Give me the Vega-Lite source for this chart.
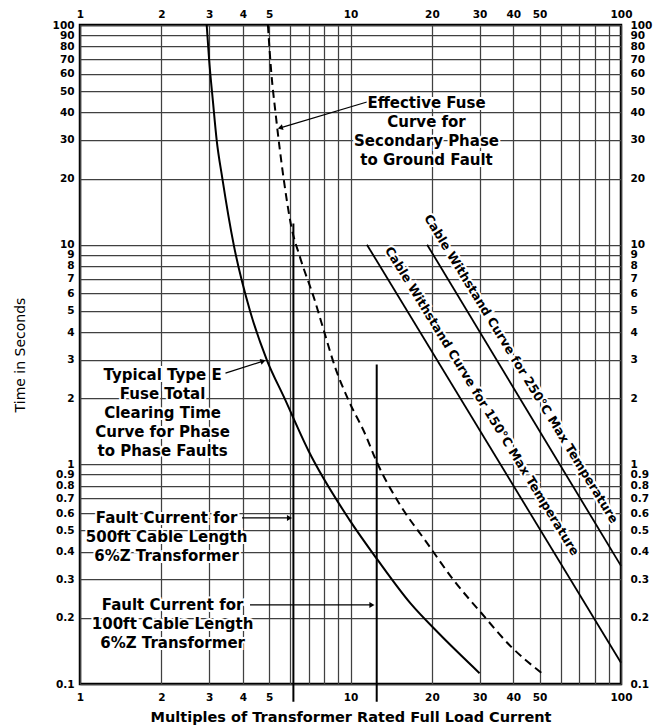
{
  "$schema": "https://vega.github.io/schema/vega-lite/v6.json",
  "width": 541,
  "height": 659,
  "autosize": {"type": "none"},
  "padding": {"left": 80, "top": 25, "right": 39, "bottom": 43},
  "background": "white",
  "config": {
    "view": {"stroke": "black", "strokeWidth": 2.5},
    "axis": {
      "labelFont": "DejaVu Sans",
      "labelFontWeight": "bold",
      "labelFontSize": 10.5,
      "labelColor": "black",
      "ticks": false,
      "domain": false,
      "gridColor": "#404040",
      "gridWidth": 1.25,
      "gridOpacity": 1,
      "labelOverlap": false,
      "labelFlush": false,
      "labelBound": false,
      "titleColor": "black",
      "titleFont": "DejaVu Sans"
    }
  },
  "datasets": {
    "fuse": [
      {"x": 2.94, "y": 100}, {"x": 3.0, "y": 70}, {"x": 3.1, "y": 45}, {"x": 3.2, "y": 30},
      {"x": 3.36, "y": 20}, {"x": 3.7, "y": 10}, {"x": 4.25, "y": 5}, {"x": 4.9, "y": 3},
      {"x": 5.7, "y": 2}, {"x": 7.0, "y": 1.15}, {"x": 9.9, "y": 0.56}, {"x": 12.6, "y": 0.367},
      {"x": 16.7, "y": 0.232}, {"x": 21.1, "y": 0.171}, {"x": 30, "y": 0.112}
    ],
    "effective": [
      {"x": 4.95, "y": 100}, {"x": 5.1, "y": 60}, {"x": 5.28, "y": 40}, {"x": 5.66, "y": 20},
      {"x": 6.05, "y": 12}, {"x": 6.5, "y": 8.8}, {"x": 7.37, "y": 5.6}, {"x": 8.0, "y": 4.0},
      {"x": 8.77, "y": 2.77}, {"x": 9.83, "y": 1.96}, {"x": 11.4, "y": 1.35}, {"x": 12.4, "y": 1.05},
      {"x": 15.1, "y": 0.667}, {"x": 19.2, "y": 0.438}, {"x": 24, "y": 0.298}, {"x": 30.4, "y": 0.211},
      {"x": 39.2, "y": 0.148}, {"x": 51, "y": 0.112}
    ],
    "cable": [
      {"curve": "150", "x": 11.5, "y": 10}, {"curve": "150", "x": 100, "y": 0.125},
      {"curve": "250", "x": 19.2, "y": 10}, {"curve": "250", "x": 100, "y": 0.345}
    ],
    "faults": [
      {"x": 6.15, "y": 0.083, "y2": 12.5},
      {"x": 12.5, "y": 0.083, "y2": 2.85}
    ],
    "arrows": [
      {"id": "effective", "end": "tail", "x": 11.5, "y": 44.6},
      {"id": "effective", "end": "head", "x": 5.5, "y": 34},
      {"id": "typical", "end": "tail", "x": 3.45, "y": 2.6},
      {"id": "typical", "end": "head", "x": 4.75, "y": 2.95},
      {"id": "f500", "end": "tail", "x": 3.97, "y": 0.57},
      {"id": "f500", "end": "head", "x": 5.95, "y": 0.57},
      {"id": "f100", "end": "tail", "x": 4.25, "y": 0.229},
      {"id": "f100", "end": "head", "x": 12.0, "y": 0.229}
    ],
    "notes": [
      {"x": 19.1, "y": 44.2, "text": "Effective Fuse\nCurve for\nSecondary Phase\nto Ground Fault"},
      {"x": 2.02, "y": 2.55, "text": "Typical Type E\nFuse Total\nClearing Time\nCurve for Phase\nto Phase Faults"},
      {"x": 2.09, "y": 0.57, "text": "Fault Current for\n500ft Cable Length\n6%Z Transformer"},
      {"x": 2.2, "y": 0.229, "text": "Fault Current for\n100ft Cable Length\n6%Z Transformer"}
    ],
    "cableLabels": [
      {"x": 30.6, "y": 1.94, "text": "Cable Withstand Curve for 150°C Max Temperature"},
      {"x": 42.7, "y": 2.72, "text": "Cable Withstand Curve for 250°C Max Temperature"}
    ]
  },
  "resolve": {"axis": {"x": "independent", "y": "independent"}},
  "layer": [
    {
      "data": {"name": "fuse"},
      "mark": {"type": "line", "color": "black", "strokeWidth": 2, "interpolate": "monotone"},
      "encoding": {
        "x": {
          "field": "x", "type": "quantitative",
          "scale": {"type": "log", "domain": [1, 100], "nice": false},
          "axis": {
            "orient": "bottom",
            "values": [1,2,3,4,5,6,7,8,9,10,20,30,40,50,60,70,80,90,100],
            "labelExpr": "indexof([1,2,3,4,5,10,20,30,40,50,100], datum.value) >= 0 ? format(datum.value, '~g') : ''",
            "grid": true,
            "labelPadding": 8,
            "title": "Multiples of Transformer Rated Full Load Current",
            "titleFontSize": 14.5,
            "titleFontWeight": "bold",
            "titleColor": "black",
            "titlePadding": 8
          }
        },
        "y": {
          "field": "y", "type": "quantitative",
          "scale": {"type": "log", "domain": [0.1, 100], "nice": false},
          "axis": {
            "orient": "left",
            "values": [0.1,0.2,0.3,0.4,0.5,0.6,0.7,0.8,0.9,1,2,3,4,5,6,7,8,9,10,20,30,40,50,60,70,80,90,100],
            "labelExpr": "format(datum.value, '~g')",
            "grid": true,
            "labelPadding": 6,
            "title": "Time in Seconds",
            "titleFontSize": 14,
            "titleFontWeight": "normal",
            "titleColor": "black",
            "titlePadding": 25
          }
        }
      }
    },
    {
      "data": {"name": "effective"},
      "mark": {"type": "line", "color": "black", "strokeWidth": 2, "strokeDash": [8, 5], "interpolate": "monotone"},
      "encoding": {
        "x": {
          "field": "x", "type": "quantitative",
          "scale": {"type": "log", "domain": [1, 100], "nice": false},
          "axis": {
            "orient": "top",
            "values": [1,2,3,4,5,10,20,30,40,50,100],
            "labelExpr": "format(datum.value, '~g')",
            "grid": false,
            "labelPadding": 6,
            "title": null
          }
        },
        "y": {
          "field": "y", "type": "quantitative",
          "scale": {"type": "log", "domain": [0.1, 100], "nice": false},
          "axis": {
            "orient": "right",
            "values": [0.1,0.2,0.3,0.4,0.5,0.6,0.7,0.8,0.9,1,2,3,4,5,6,7,8,9,10,20,30,40,50,60,70,80,90,100],
            "labelExpr": "format(datum.value, '~g')",
            "grid": false,
            "labelPadding": 9,
            "title": null
          }
        }
      }
    },
    {
      "data": {"name": "cable"},
      "mark": {"type": "line", "color": "black", "strokeWidth": 1.8},
      "encoding": {
        "x": {"field": "x", "type": "quantitative", "axis": null},
        "y": {"field": "y", "type": "quantitative", "axis": null},
        "detail": {"field": "curve"}
      }
    },
    {
      "data": {"name": "faults"},
      "mark": {"type": "rule", "color": "black", "strokeWidth": 2},
      "encoding": {
        "x": {"field": "x", "type": "quantitative", "axis": null},
        "y": {"field": "y", "type": "quantitative", "axis": null},
        "y2": {"field": "y2"}
      }
    },
    {
      "data": {"name": "arrows"},
      "mark": {"type": "line", "color": "black", "strokeWidth": 1.2},
      "encoding": {
        "x": {"field": "x", "type": "quantitative", "axis": null},
        "y": {"field": "y", "type": "quantitative", "axis": null},
        "detail": {"field": "id"}
      }
    },
    {
      "data": {"name": "arrows"},
      "transform": [{"filter": "datum.end == 'head' && (datum.id == 'f500' || datum.id == 'f100')"}],
      "mark": {"type": "point", "shape": "triangle-right", "filled": true, "color": "black", "size": 35, "opacity": 1},
      "encoding": {
        "x": {"field": "x", "type": "quantitative", "axis": null},
        "y": {"field": "y", "type": "quantitative", "axis": null}
      }
    },
    {
      "data": {"name": "arrows"},
      "transform": [{"filter": "datum.end == 'head' && datum.id == 'typical'"}],
      "mark": {"type": "point", "shape": "triangle-right", "filled": true, "color": "black", "size": 35, "opacity": 1, "angle": -18},
      "encoding": {
        "x": {"field": "x", "type": "quantitative", "axis": null},
        "y": {"field": "y", "type": "quantitative", "axis": null}
      }
    },
    {
      "data": {"name": "arrows"},
      "transform": [{"filter": "datum.end == 'head' && datum.id == 'effective'"}],
      "mark": {"type": "point", "shape": "triangle-right", "filled": true, "color": "black", "size": 35, "opacity": 1, "angle": 164},
      "encoding": {
        "x": {"field": "x", "type": "quantitative", "axis": null},
        "y": {"field": "y", "type": "quantitative", "axis": null}
      }
    },
    {
      "data": {"name": "notes"},
      "mark": {"type": "text", "font": "DejaVu Sans", "fontWeight": "bold", "fontSize": 15, "lineHeight": 19, "lineBreak": "\n", "align": "center", "baseline": "middle", "color": "white", "stroke": "white", "strokeWidth": 4},
      "encoding": {
        "x": {"field": "x", "type": "quantitative", "axis": null},
        "y": {"field": "y", "type": "quantitative", "axis": null},
        "text": {"field": "text"}
      }
    },
    {
      "data": {"name": "notes"},
      "mark": {"type": "text", "font": "DejaVu Sans", "fontWeight": "bold", "fontSize": 15, "lineHeight": 19, "lineBreak": "\n", "align": "center", "baseline": "middle", "color": "black"},
      "encoding": {
        "x": {"field": "x", "type": "quantitative", "axis": null},
        "y": {"field": "y", "type": "quantitative", "axis": null},
        "text": {"field": "text"}
      }
    },
    {
      "data": {"name": "cableLabels"},
      "mark": {"type": "text", "font": "DejaVu Sans", "fontWeight": "bold", "fontSize": 12.5, "angle": 58.5, "align": "center", "baseline": "middle", "color": "white", "stroke": "white", "strokeWidth": 4},
      "encoding": {
        "x": {"field": "x", "type": "quantitative", "axis": null},
        "y": {"field": "y", "type": "quantitative", "axis": null},
        "text": {"field": "text"}
      }
    },
    {
      "data": {"name": "cableLabels"},
      "mark": {"type": "text", "font": "DejaVu Sans", "fontWeight": "bold", "fontSize": 12.5, "angle": 58.5, "align": "center", "baseline": "middle", "color": "black"},
      "encoding": {
        "x": {"field": "x", "type": "quantitative", "axis": null},
        "y": {"field": "y", "type": "quantitative", "axis": null},
        "text": {"field": "text"}
      }
    }
  ]
}
